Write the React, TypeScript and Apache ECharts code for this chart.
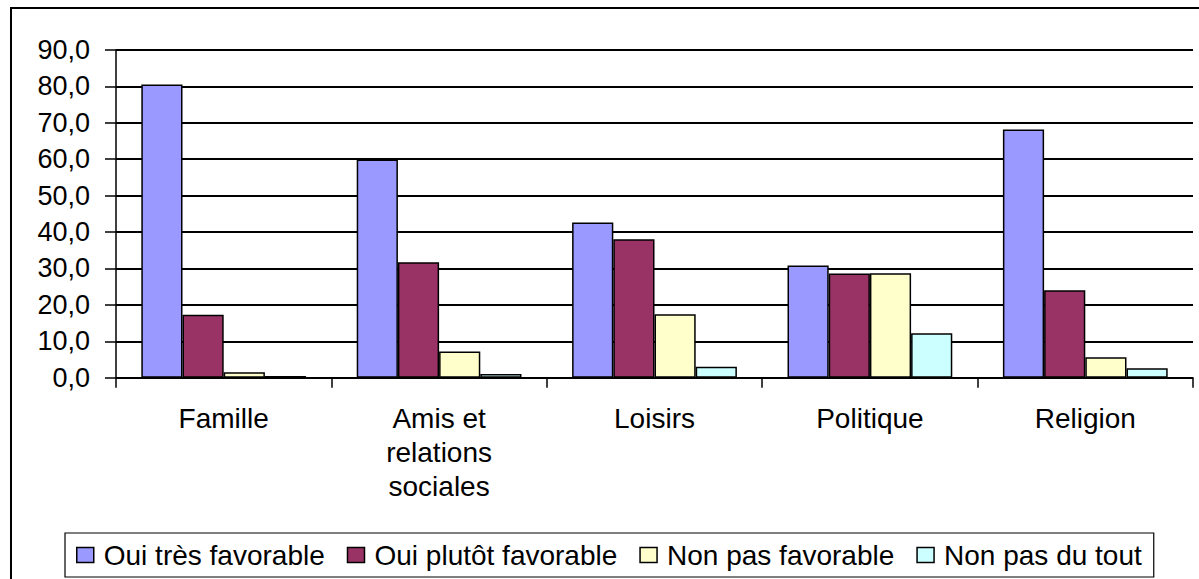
import React, { useEffect, useRef } from "react";
import * as echarts from "echarts";

const categories = ["Famille", "Amis et\nrelations\nsociales", "Loisirs", "Politique", "Religion"];
const seriesNames = ["Oui très favorable", "Oui plutôt favorable", "Non pas favorable", "Non pas du tout"];
const tresFavorable = [80.5, 59.9, 42.6, 30.8, 68.2];
const plutotFavorable = [17.3, 31.7, 38.0, 28.6, 24.0];
const pasFavorable = [1.5, 7.2, 17.4, 28.7, 5.6];
const pasDuTout = [0.5, 1.0, 3.0, 12.2, 2.6];
const seriesValues = [tresFavorable, plutotFavorable, pasFavorable, pasDuTout];
const colors = ["#9999FF", "#993366", "#FFFFCC", "#CCFFFF"];

const FONT = "'Liberation Sans', Arial, sans-serif";

export default function App() {
  const ref = useRef<HTMLDivElement>(null);
  useEffect(() => {
    if (!ref.current) return;
    const chart = echarts.init(ref.current, null, { renderer: "svg" });
    chart.setOption({
      animation: false,
      backgroundColor: "#ffffff",
      graphic: [
        {
          type: "rect",
          z: -10,
          shape: { x: 11, y: 8, width: 1400, height: 800 },
          style: { fill: "none", stroke: "#000", lineWidth: 2 },
          silent: true,
        },
      ],
      grid: { left: 116, right: 6, top: 50, bottom: 201.3 },
      legend: {
        left: 65,
        top: 533,
        padding: [8, 12, 8, 11],
        borderColor: "#000",
        borderWidth: 1.2,
        itemWidth: 17,
        itemHeight: 15,
        itemGap: 22,
        icon: "rect",
        itemStyle: { borderColor: "#000", borderWidth: 1.5 },
        textStyle: {
          fontFamily: FONT,
          fontSize: 28,
          color: "#000",
          lineHeight: 28,
          padding: [0, 0, 0, 5],
        },
        data: seriesNames,
      },
      xAxis: {
        type: "category",
        data: categories,
        axisLine: { lineStyle: { color: "#000", width: 1.5 } },
        axisTick: { show: true, length: 10, lineStyle: { color: "#000", width: 1.5 } },
        axisLabel: {
          fontFamily: FONT,
          fontSize: 28,
          color: "#000",
          lineHeight: 34,
          margin: 24,
          interval: 0,
        },
      },
      yAxis: {
        type: "value",
        min: 0,
        max: 90,
        interval: 10,
        axisLine: { show: true, lineStyle: { color: "#000", width: 1.5 } },
        axisTick: { show: true, length: 11, lineStyle: { color: "#000", width: 1.5 } },
        splitLine: { show: true, lineStyle: { color: "#000", width: 1.8 } },
        axisLabel: {
          fontFamily: FONT,
          fontSize: 27,
          color: "#000",
          margin: 26,
          formatter: (v: number) => v.toFixed(1).replace(".", ","),
        },
      },
      series: seriesNames.map((name, i) => ({
        name,
        type: "bar",
        data: seriesValues[i],
        barGap: "0%",
        barCategoryGap: "23.5%",
        itemStyle: { color: colors[i], borderColor: "#000", borderWidth: 1.5 },
      })),
    });
    return () => chart.dispose();
  }, []);
  return (
    <div
      ref={ref}
      style={{ position: "fixed", left: 0, top: 0, width: 1199, height: 579 }}
    />
  );
}
